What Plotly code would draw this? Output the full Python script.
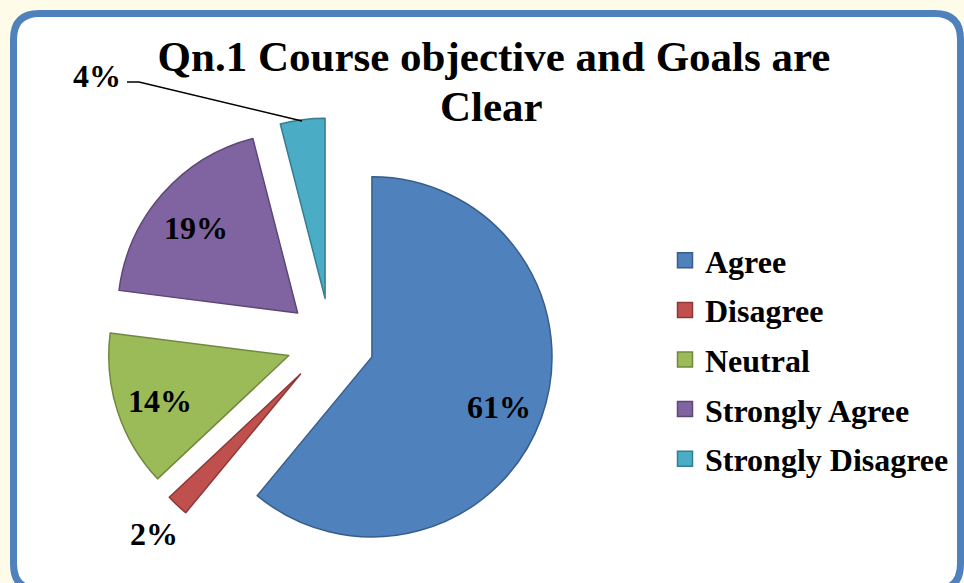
import math
import plotly.graph_objects as go

# ---- data ----
categories = ["Agree", "Disagree", "Neutral", "Strongly Agree", "Strongly Disagree"]
values = [61, 2, 14, 19, 4]
fill_colors = ["#4F81BD", "#C0504D", "#9BBB59", "#8064A2", "#4BACC6"]
line_colors = ["#385D8A", "#8C3836", "#71893F", "#5C4776", "#357D91"]
title_line1 = "Qn.1 Course objective and Goals are"
title_line2 = "Clear"

W, H = 964, 583
FONT = "Liberation Serif"
LABEL_FONT = dict(family=FONT, size=32, color="black", weight="bold")

def px(x):
    return x / W

def py(y):
    return 1 - y / H

total = sum(values)
pcts = [round(v / total * 100) for v in values]

fig = go.Figure()

# pie geometry (pixels)
cx, cy, half = 330.6, 342, 224
PULL = 0.244
r = half / (1 + PULL)

fig.add_trace(go.Pie(
    labels=categories,
    values=values,
    sort=False,
    direction="clockwise",
    rotation=0,
    pull=[PULL] * len(values),
    marker=dict(colors=fill_colors, line=dict(color=line_colors, width=1.5)),
    textinfo="none",
    domain=dict(x=[px(cx - half), px(cx + half)], y=[py(cy + half), py(cy - half)]),
    showlegend=False,
    hoverinfo="label+percent",
))

# data labels, placed along each slice's mid-angle
annotations = []
cum = 0
for i, v in enumerate(values):
    mid = math.radians(360 * (cum + v / 2) / total)
    cum += v
    if i == 4:
        continue  # label with leader line, placed separately
    f = 0.75 if pcts[i] >= 10 else 1.19
    d = PULL * r + f * r
    lx = cx + d * math.sin(mid)
    ly = cy - d * math.cos(mid)
    annotations.append(dict(text=f"{pcts[i]}%", x=px(lx), y=py(ly + 4), xref="paper", yref="paper",
                            xanchor="center", yanchor="middle", showarrow=False, font=LABEL_FONT))
annotations.append(dict(text=f"{pcts[4]}%", x=px(97), y=py(76), xref="paper", yref="paper",
                        xanchor="center", yanchor="middle", showarrow=False, font=LABEL_FONT))

# legend entries (one per category so spacing can be set)
for cat, fc, lc in zip(categories, fill_colors, line_colors):
    fig.add_trace(go.Scatter(
        x=[None], y=[None], mode="markers", name=cat, legendgroup=cat,
        marker=dict(symbol="square", size=15, color=fc, line=dict(color=lc, width=1.5)),
        showlegend=True, hoverinfo="skip",
    ))

# rounded card
x0, y0, x1, y1, rr = 13.5, 13.5, 960.5, 590, 26
path = (
    f"M {px(x0 + rr)} {py(y0)} L {px(x1 - rr)} {py(y0)} "
    f"Q {px(x1)} {py(y0)} {px(x1)} {py(y0 + rr)} "
    f"L {px(x1)} {py(y1 - rr)} Q {px(x1)} {py(y1)} {px(x1 - rr)} {py(y1)} "
    f"L {px(x0 + rr)} {py(y1)} Q {px(x0)} {py(y1)} {px(x0)} {py(y1 - rr)} "
    f"L {px(x0)} {py(y0 + rr)} Q {px(x0)} {py(y0)} {px(x0 + rr)} {py(y0)} Z"
)
shapes = [
    dict(type="path", xref="paper", yref="paper", path=path,
         fillcolor="white", line=dict(color="#4F81BD", width=7), layer="below"),
    dict(type="path", xref="paper", yref="paper",
         path=f"M {px(127)} {py(82)} L {px(139)} {py(82)} L {px(302)} {py(121)}",
         line=dict(color="black", width=1.5), layer="above"),
]

annotations.append(dict(text=title_line2, x=px(492), y=py(107), xref="paper", yref="paper",
                        xanchor="center", yanchor="middle", showarrow=False,
                        font=dict(family=FONT, size=43, color="black", weight="bold")))

fig.update_layout(
    template="none",
    width=W, height=H,
    margin=dict(l=0, r=0, t=0, b=0),
    paper_bgcolor="#FEFBE9",
    plot_bgcolor="rgba(0,0,0,0)",
    title=dict(text=title_line1, x=px(494), xanchor="center", xref="paper",
               y=py(41), yref="container", yanchor="top",
               font=dict(family=FONT, size=43, color="black", weight="bold")),
    xaxis=dict(visible=False), yaxis=dict(visible=False),
    legend=dict(x=px(665), y=py(233), xanchor="left", yanchor="top",
                font=dict(family=FONT, size=32, color="black", weight="bold"),
                tracegroupgap=5, bgcolor="rgba(0,0,0,0)"),
    shapes=shapes,
    annotations=annotations,
)

fig.write_html("out.html", config={"displayModeBar": False},
               post_script="document.body.style.margin='0';")
